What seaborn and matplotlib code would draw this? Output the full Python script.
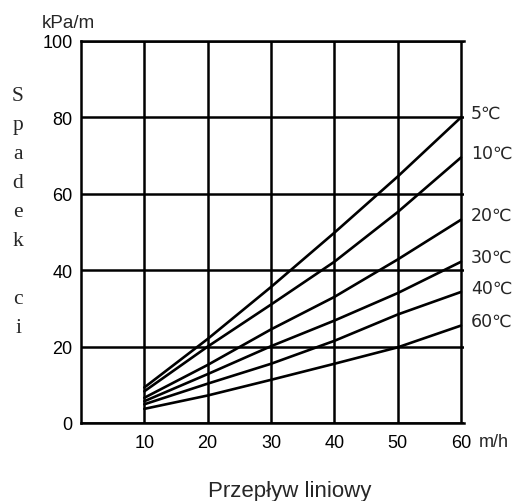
import matplotlib
matplotlib.use("Agg")
import matplotlib.pyplot as plt
import seaborn as sns
import pandas as pd

# ---- data ----
flow = [10, 20, 30, 40, 50, 60]                 # m/h
drop_5 = [9.3, 22.0, 35.6, 49.8, 64.5, 80.0]     # kPa/m
drop_10 = [8.3, 20.0, 31.0, 42.2, 55.2, 69.5]
drop_20 = [6.6, 15.2, 24.5, 33.0, 42.8, 53.2]
drop_30 = [5.7, 12.8, 20.1, 26.8, 34.0, 42.2]
drop_40 = [4.9, 10.3, 15.5, 21.5, 28.4, 34.3]
drop_60 = [3.7, 7.2, 11.3, 15.5, 19.8, 25.5]
temp_labels = ["5℃", "10℃", "20℃", "30℃", "40℃", "60℃"]
x_ticks = [10, 20, 30, 40, 50, 60]
y_ticks = [0, 20, 40, 60, 80, 100]
x_unit = "m/h"
y_unit = "kPa/m"
y_title = "Spadek ci"
x_title = "Przepływ liniowy"

series = [drop_5, drop_10, drop_20, drop_30, drop_40, drop_60]
rows = []
for lab, vals in zip(temp_labels, series):
    for xv, yv in zip(flow, vals):
        rows.append({"flow": xv, "drop": yv, "temp": lab})
df = pd.DataFrame(rows)

sns.set_style("white")
sans = ["Liberation Sans", "Noto Sans CJK SC", "DejaVu Sans"]
plt.rcParams["font.family"] = sans

W, H = 514, 502
fig = plt.figure(figsize=(W / 100, H / 100), dpi=100)
ax_left, ax_right, ax_top, ax_bottom = 81, 463.5, 42, 424
ax = fig.add_axes([ax_left / W, 1 - ax_bottom / H,
                   (ax_right - ax_left) / W, (ax_bottom - ax_top) / H])

sns.lineplot(data=df, x="flow", y="drop", hue="temp", hue_order=temp_labels,
             palette=["black"] * len(temp_labels), linewidth=1.9,
             legend=False, ax=ax, zorder=3)

ax.set_xlim(0, 60.4)
ax.set_ylim(0, 100)
ax.set_xticks(x_ticks)
ax.set_yticks(y_ticks)
ax.set_xlabel("")
ax.set_ylabel("")
ax.grid(True, color="black", linewidth=1.8)
ax.set_axisbelow(True)
for side in ["left", "bottom", "top"]:
    ax.spines[side].set_visible(True)
    ax.spines[side].set_color("black")
    ax.spines[side].set_linewidth(1.8)
ax.spines["right"].set_visible(False)
ax.tick_params(axis="both", direction="out", length=3, width=1.8,
               colors="black", labelsize=13)
ax.tick_params(axis="x", pad=5)
ax.tick_params(axis="y", pad=3)

# curve labels at right
lab_font = ["DejaVu Sans", "Noto Sans CJK SC"]
for lab, vals in zip(temp_labels, series):
    ax.annotate(lab, xy=(flow[-1], vals[-1]), xytext=(7, 3.3),
                textcoords="offset points", ha="left", va="center",
                fontsize=12.5, family=lab_font)

def px(x, y):
    return x / W, 1 - y / H

# units
fig.text(*px(42, 28), y_unit, ha="left", va="baseline", fontsize=13.5)
fig.text(*px(479, 447), x_unit, ha="left", va="baseline", fontsize=13)

# vertical stacked y title (serif)
for i, ch in enumerate(y_title):
    fig.text(*px(18, 101 + i * 29), ch, ha="center", va="baseline",
             fontsize=15.5, family=["Liberation Serif", "DejaVu Serif"])

# x title
fig.text(*px(290, 497), x_title, ha="center", va="baseline", fontsize=16)

fig.savefig("out.png", dpi=100)
